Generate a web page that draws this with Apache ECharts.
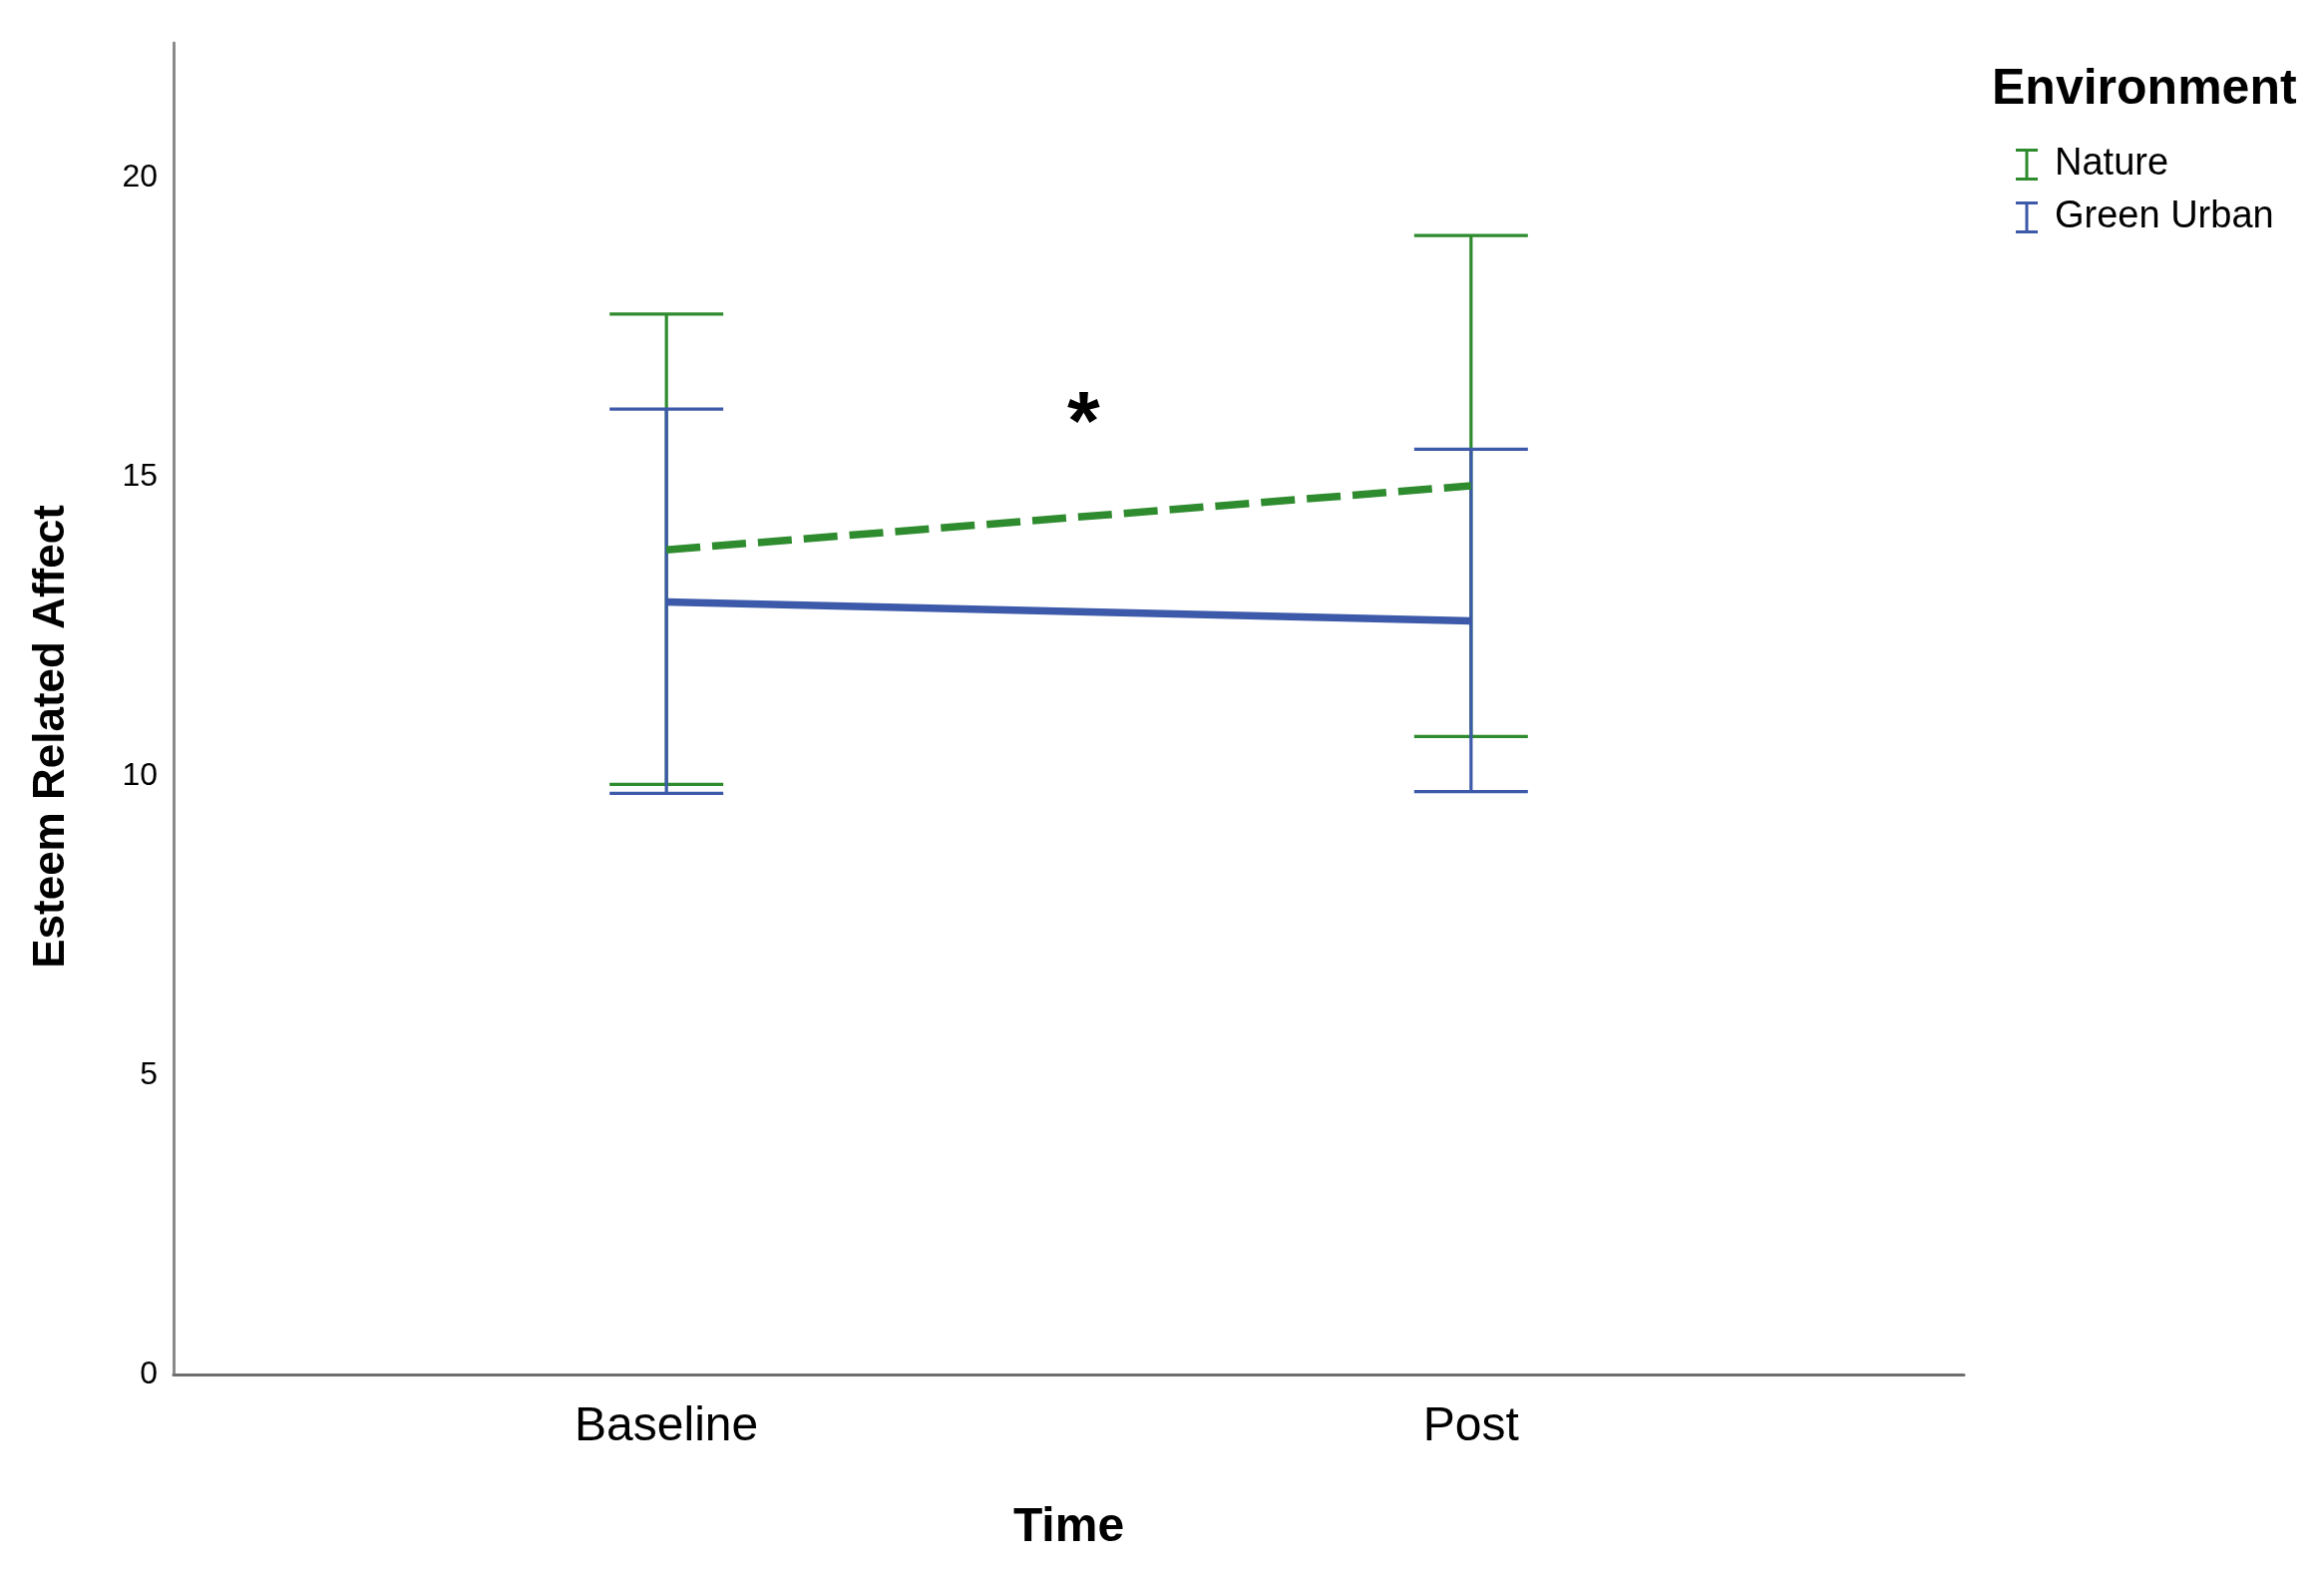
<!DOCTYPE html>
<html>
<head>
<meta charset="utf-8">
<script src="https://cdn.jsdelivr.net/npm/echarts@6/dist/echarts.min.js"></script>
<style>html,body{margin:0;padding:0;background:#fff}#c{width:2330px;height:1574px}</style>
</head>
<body>
<div id="c"></div>
<script>
const categories = ['Baseline', 'Post'];
const seriesNames = ['Nature', 'Green Urban'];
const natureMean = [13.78, 14.85];
const natureLow = [9.86, 10.66];
const natureHigh = [17.72, 19.03];
const urbanMean = [12.91, 12.59];
const urbanLow = [9.71, 9.74];
const urbanHigh = [16.13, 15.46];
const yTicks = [0, 5, 10, 15, 20];

const GREEN = '#2e8b2e';
const BLUE = '#3d59a9';
const FONT = '"Liberation Sans", Arial, sans-serif';

const xIdx = categories.map((c, i) => i);
const lineData = arr => arr.map((v, i) => [xIdx[i], v]);
const barData = (lo, hi) => lo.map((v, i) => [xIdx[i], v, hi[i]]);

function errorBar(color) {
  return function (params, api) {
    const x = api.value(0);
    const pLo = api.coord([x, api.value(1)]);
    const pHi = api.coord([x, api.value(2)]);
    const hw = 57;
    const st = { stroke: color, lineWidth: 3.2 };
    return {
      type: 'group',
      children: [
        { type: 'line', shape: { x1: pLo[0], y1: pLo[1], x2: pHi[0], y2: pHi[1] }, style: st },
        { type: 'line', shape: { x1: pHi[0] - hw, y1: pHi[1], x2: pHi[0] + hw, y2: pHi[1] }, style: st },
        { type: 'line', shape: { x1: pLo[0] - hw, y1: pLo[1], x2: pLo[0] + hw, y2: pLo[1] }, style: st }
      ]
    };
  };
}

const iconPath = 'path://M0,0h22v3h-22z M9.5,0h3v32h-3z M0,29h22v3h-22z';

const chart = echarts.init(document.getElementById('c'), null, { renderer: 'canvas' });
chart.setOption({
  animation: false,
  backgroundColor: '#ffffff',
  color: [GREEN, BLUE],
  grid: { left: 174, right: 361, top: 43, bottom: 196, containLabel: false },
  title: {
    text: 'Environment',
    left: 1992, top: 60,
    textStyle: { fontFamily: FONT, fontWeight: 'bold', fontSize: 50, color: '#000' }
  },
  legend: {
    orient: 'vertical',
    left: 2016, top: 141,
    itemWidth: 22, itemHeight: 32, itemGap: 15,
    icon: iconPath,
    data: seriesNames,
    selectedMode: false,
    textStyle: { fontFamily: FONT, fontSize: 38, color: '#000', padding: [0, 0, 0, 12] }
  },
  xAxis: {
    type: 'value',
    min: -0.6126, max: 1.6126,
    name: 'Time',
    nameLocation: 'middle',
    nameGap: 130,
    nameTextStyle: { fontFamily: FONT, fontWeight: 'bold', fontSize: 48, color: '#000' },
    axisLine: { show: true, onZero: false, lineStyle: { color: '#6e6e6e', width: 3 } },
    axisTick: { show: false },
    splitLine: { show: false },
    axisLabel: {
      customValues: xIdx,
      formatter: v => categories[Math.round(v)] ?? '',
      fontFamily: FONT, fontSize: 48, color: '#000', margin: 29
    }
  },
  yAxis: {
    type: 'value',
    min: 0, max: 22.25,
    name: 'Esteem Related Affect',
    nameLocation: 'middle',
    nameGap: 100,
    nameRotate: 90,
    nameTextStyle: { fontFamily: FONT, fontWeight: 'bold', fontSize: 44, color: '#000', padding: [0, 56, 0, 0] },
    axisLine: { show: true, onZero: false, lineStyle: { color: '#8a8a8a', width: 3 } },
    axisTick: { show: false },
    splitLine: { show: false },
    axisLabel: {
      customValues: yTicks,
      fontFamily: FONT, fontSize: 32, color: '#000', margin: 16, padding: [14, 0, 0, 0]
    }
  },
  graphic: [{
    type: 'text',
    left: 1070, top: 386,
    style: { text: '*', fontFamily: FONT, fontWeight: 'bold', fontSize: 84, fill: '#000' }
  }],
  series: [
    {
      name: seriesNames[0], type: 'custom', renderItem: errorBar(GREEN),
      itemStyle: { color: GREEN }, data: barData(natureLow, natureHigh), z: 2
    },
    {
      name: seriesNames[1], type: 'custom', renderItem: errorBar(BLUE),
      itemStyle: { color: BLUE }, data: barData(urbanLow, urbanHigh), z: 3
    },
    {
      name: seriesNames[0], type: 'line', data: lineData(natureMean), symbol: 'none',
      lineStyle: { color: GREEN, width: 7.5, type: [34, 12] }, itemStyle: { color: GREEN }, z: 4
    },
    {
      name: seriesNames[1], type: 'line', data: lineData(urbanMean), symbol: 'none',
      lineStyle: { color: BLUE, width: 7.5 }, itemStyle: { color: BLUE }, z: 4
    }
  ]
});
</script>
</body>
</html>
